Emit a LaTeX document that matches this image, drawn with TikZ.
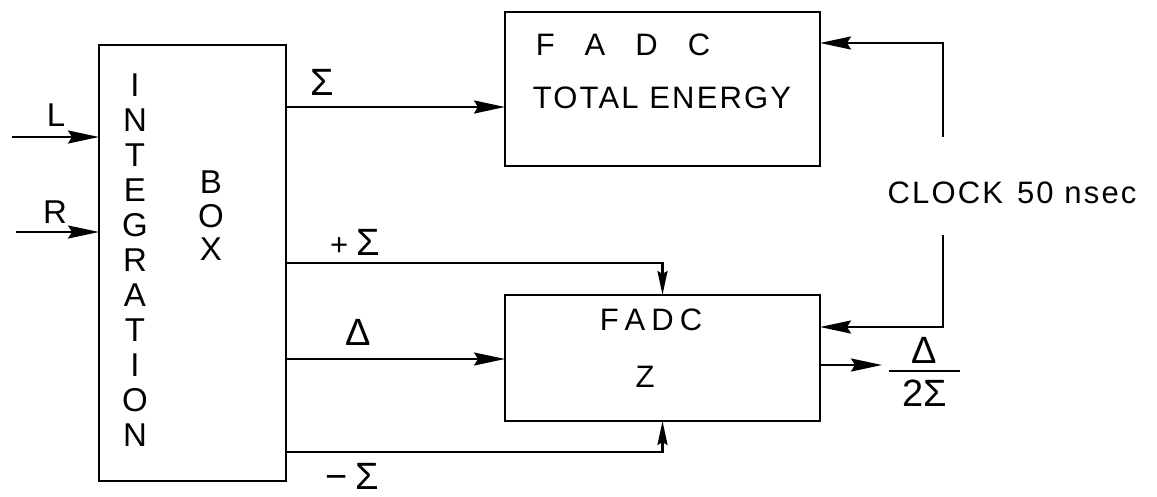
\documentclass[tikz,border=0pt]{standalone}
\usepackage{fontspec}
\setmainfont{Liberation Sans}
\newfontfamily\lettr[LetterSpace=7]{Liberation Sans}
\usetikzlibrary{arrows.meta}
\begin{document}
\begin{tikzpicture}[x=1pt,y=-1pt,
  box/.style={draw, line width=2.4pt, inner sep=0pt, outer sep=0pt},
  lbl/.style={inner sep=0pt, font=\lettr\fontsize{31}{31}\selectfont},
  tall/.style={inner sep=0pt, align=center, font=\lettr\fontsize{33}{35}\selectfont},
  gk/.style={inner sep=0pt, font=\fontsize{38}{38}\selectfont},
  wire/.style={line width=2.4pt},
  arr/.style={wire, -{Stealth[length=31pt,width=13pt,inset=4pt]}},
  varr/.style={wire, -{Stealth[length=24pt,width=10pt,inset=3pt]}}]
\useasboundingbox (0,0) rectangle (1157,496);

% integration box
\node[box, minimum width=187pt, minimum height=436pt] (integ) at (192.5,263) {};
\node[tall] (integtxt) at (135,260) {I\\N\\T\\E\\G\\R\\A\\T\\I\\O\\N};
\node[tall, font=\lettr\fontsize{33}{33.5}\selectfont] (boxtxt) at (211,216) {B\\O\\X};

% FADC boxes
\node[box, minimum width=315pt, minimum height=154pt] (top) at (662.5,89) {};
\node[lbl] (toptxt1) at (623,45) {F\hspace{30pt}A\hspace{30pt}D\hspace{30pt}C};
\node[lbl] (toptxt2) at (662,98) {TOTAL ENERGY};
\node[box, minimum width=315pt, minimum height=126pt] (low) at (662.5,358) {};
\node[lbl] (lowtxt1) at (651,320) {F\hspace{6pt}A\hspace{6pt}D\hspace{6pt}C};
\node[lbl] (lowtxt2) at (645,377) {Z};

% clock
\node[lbl] (clk) at (1012,193) {CLOCK\hspace{14pt}50 nsec};
\coordinate (c1) at (943,137);
\coordinate (k1) at (943,43);
\draw[arr] (c1) -- (k1) -- (k1 -| top.east);
\coordinate (c2) at (943,235);
\coordinate (k2) at (943,327);
\draw[arr] (c2) -- (k2) -- (k2 -| low.east);

% inputs
\coordinate (Lin) at (12,137);
\draw[arr] (Lin) -- (Lin -| integ.west);
\coordinate (Rin) at (16,232);
\draw[arr] (Rin) -- (Rin -| integ.west);
\node[lbl, font=\fontsize{33}{33}\selectfont] (Llbl) at (56,115) {L};
\node[lbl, font=\fontsize{33}{33}\selectfont] (Rlbl) at (55,212) {R};

% outputs
\coordinate (ys) at (0,107);
\draw[arr] (ys -| integ.east) -- (ys -| top.west);
\coordinate (yp) at (662.5,263);
\draw[varr] (yp -| integ.east) -- (yp) -- (low.north);
\coordinate (yd) at (0,359);
\draw[arr] (yd -| integ.east) -- (yd -| low.west);
\coordinate (ym) at (662.5,452);
\draw[varr] (ym -| integ.east) -- (ym) -- (low.south);
\coordinate (yo) at (882,365);
\draw[arr] (yo -| low.east) -- (yo);

% labels
\node[gk] (sl) at (322,82) {Σ};
\node[gk] (psl) at (355,242) {{\fontsize{31}{31}\selectfont +}\hspace{8pt}Σ};
\node[gk] (dl) at (358,332) {Δ};
\node[gk] (msl) at (352,476) {−\hspace{8pt}Σ};
\node[gk] (fr) at (924.5,372) {\vbox{\hbox to 71pt{\hfil Δ\hfil}\kern7pt\hrule height 2pt\kern8pt\hbox to 71pt{\hfil 2Σ\hfil}}};
\end{tikzpicture}
\end{document}
